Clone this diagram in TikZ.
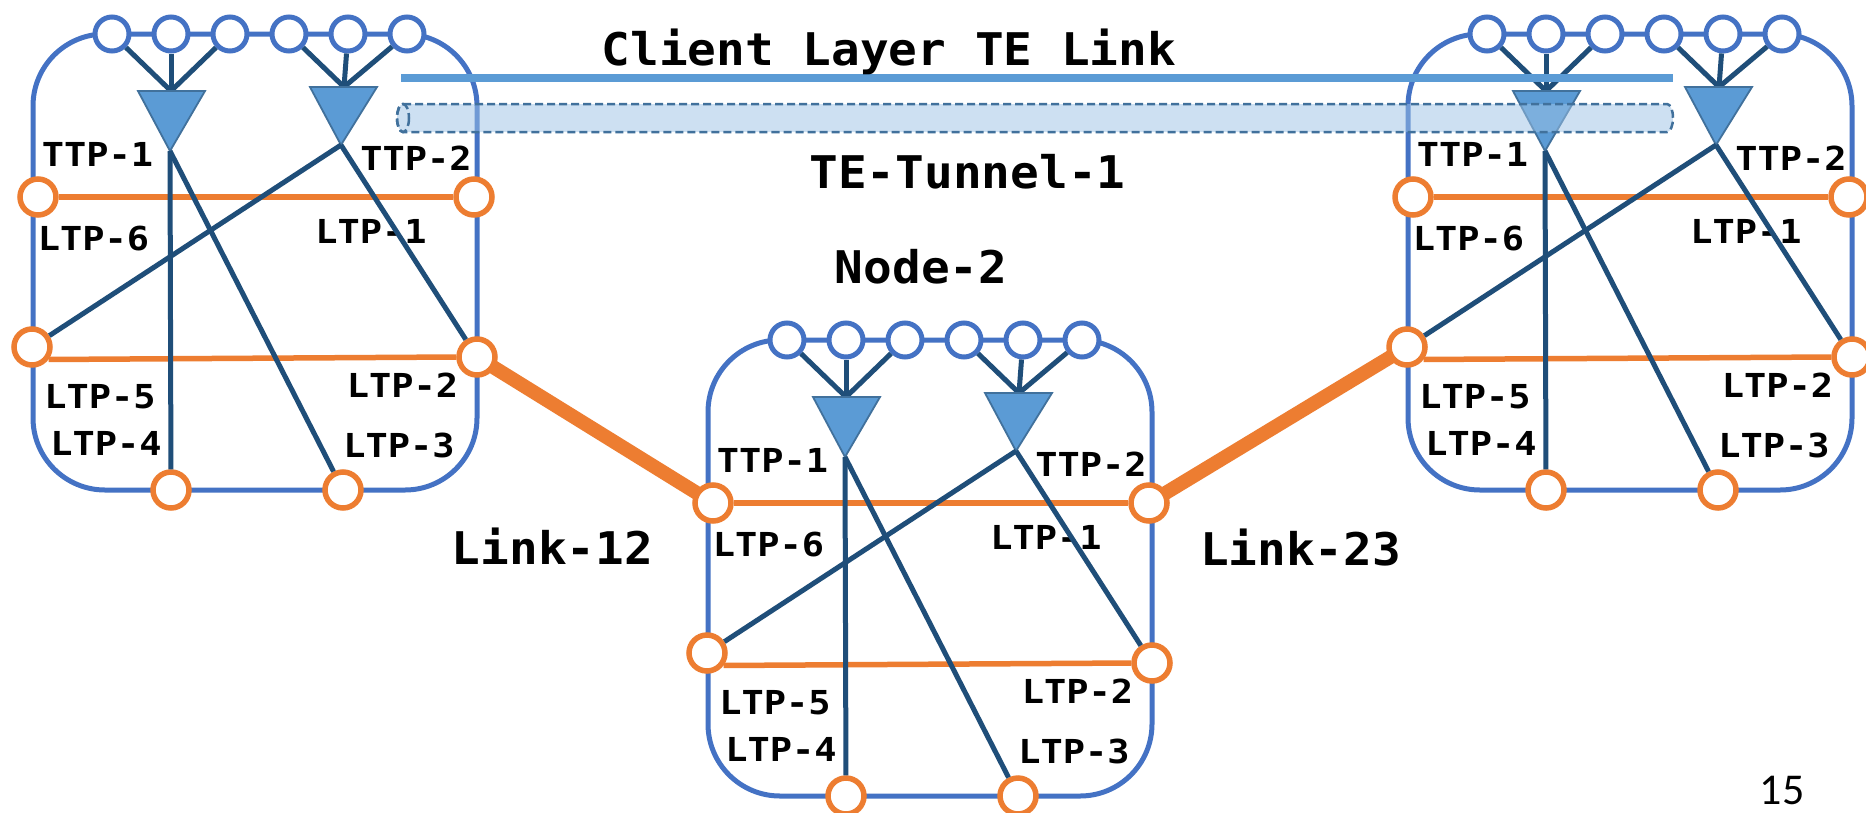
\documentclass[tikz,border=0pt]{standalone}
\usepackage{fontspec}
\newfontfamily\lblfont[FakeStretch=1.12]{DejaVu Sans Mono Bold}
\newfontfamily\bigfont[FakeStretch=1.06]{DejaVu Sans Mono Bold}
\newfontfamily\pagefont{Carlito}
\usetikzlibrary{calc}
\pgfdeclarelayer{background}
\pgfsetlayers{background,main}
\definecolor{rectblue}{HTML}{4472C4}
\definecolor{triblue}{HTML}{5B9BD5}
\definecolor{triedge}{HTML}{41719C}
\definecolor{darkln}{HTML}{1F4E79}
\definecolor{orng}{HTML}{ED7D31}
\definecolor{tunfill}{HTML}{9DC3E6}
\tikzset{
  nodebox/.style={draw=rectblue, line width=5pt, rounded corners=72pt, rectangle, inner sep=0pt, outer sep=0pt},
  clientport/.style={draw=rectblue, line width=5pt, fill=white, circle, minimum size=34pt, inner sep=0pt},
  ltpport/.style={draw=orng, line width=5.5pt, fill=white, circle, minimum size=36pt, inner sep=0pt},
  ttpshape/.style={draw=triedge, line width=1.8pt, fill=triblue, line join=miter},
  xconn/.style={draw=darkln, line width=5pt},
  olink/.style={draw=orng, line width=5.5pt},
  biglink/.style={draw=orng, line width=14pt},
  lbl/.style={font=\lblfont\fontsize{33}{36}\selectfont, anchor=base, inner sep=0pt},
  biglbl/.style={font=\bigfont\fontsize{45}{50}\selectfont, anchor=base, inner sep=0pt},
  tunnelshape/.style={draw=triedge, line width=2.5pt, dash pattern=on 8pt off 4pt, fill=tunfill, fill opacity=0.5},
}
\newcommand\tenode[3]{%
  \begin{scope}[shift={(#2,#3)}]
    \node[nodebox, minimum width=444pt, minimum height=456pt] (#1box) at (222,228) {};
    \foreach \i/\xx in {1/79,2/138,3/197,4/256,5/315,6/374}
      \node[clientport] (#1c\i) at (\xx,0) {};
    \coordinate (#1ta) at (137,117);
    \coordinate (#1tt) at (138,57);
    \coordinate (#1ua) at (308,111);
    \coordinate (#1ut) at (311,53);
    \draw[xconn] (#1c1) -- (#1tt);
    \draw[xconn] (#1c2) -- (#1tt);
    \draw[xconn] (#1c3) -- (#1tt);
    \draw[xconn] (#1c4) -- (#1ut);
    \draw[xconn] (#1c5) -- (#1ut);
    \draw[xconn] (#1c6) -- (#1ut);
    \draw[ttpshape] (105,57) -- (172,57) -- (#1ta) -- cycle;
    \draw[ttpshape] (277,53) -- (344,53) -- (#1ua) -- cycle;
    \node[ltpport] (#1l6) at (5,163) {};
    \node[ltpport] (#1l1) at (441,163) {};
    \node[ltpport] (#1l5) at (-1,313) {};
    \node[ltpport] (#1l2) at (444,323) {};
    \node[ltpport] (#1l4) at (138,456) {};
    \node[ltpport] (#1l3) at (310,456) {};
    \node[lbl] (#1ttpa) at (64.5,132) {TTP-1};
    \node[lbl] (#1ttpb) at (383,136) {TTP-2};
    \node[lbl] (#1ltpf) at (60.5,216) {LTP-6};
    \node[lbl] (#1ltpa) at (338,209) {LTP-1};
    \node[lbl] (#1ltpe) at (67,374) {LTP-5};
    \node[lbl] (#1ltpb) at (369.5,363) {LTP-2};
    \node[lbl] (#1ltpd) at (73,421) {LTP-4};
    \node[lbl] (#1ltpc) at (366,423) {LTP-3};
    \draw[olink] (#1l6) -- (#1l1);
    \draw[olink] (#1l5.-37) -- (#1l2.west);
    \draw[xconn] (#1ta) -- (#1l4);
    \draw[xconn] (#1ta) -- (#1l3);
    \draw[xconn] (#1ua) -- (#1l5);
    \draw[xconn] (#1ua) -- (#1l2);
  \end{scope}%
}
\begin{document}
\begin{tikzpicture}[x=1pt,y=-1pt]
  \useasboundingbox (0,0) rectangle (1866,812);
  \begin{pgfonlayer}{background}
    \fill[white] (0,0) rectangle (1866,812);
  \end{pgfonlayer}
  \tenode{n1}{33}{34}
  \tenode{n2}{708}{340}
  \tenode{n3}{1408}{34}
  \begin{pgfonlayer}{background}
    \draw[biglink] (n1l2.center) -- (n2l6.center);
    \draw[biglink] (n2l1.center) -- (n3l5.center);
  \end{pgfonlayer}
  % client layer TE link
  \coordinate (cla) at (401,78);
  \coordinate (clb) at (1673,78);
  \draw[triblue, line width=8.5pt] (cla) -- (clb);
  % TE tunnel
  \coordinate (tuna) at (403,118);
  \coordinate (tunb) at (1667,118);
  \draw[tunnelshape] (403,104) -- (1667,104)
     arc[start angle=-90, end angle=90, x radius=6, y radius=14]
     -- (403,132)
     arc[start angle=90, end angle=270, x radius=6, y radius=14] -- cycle;
  \draw[tunnelshape, fill=none] (tuna) ellipse [x radius=6, y radius=14];
  % texts
  \node[biglbl] (tclient) at (889,65) {Client Layer TE Link};
  \node[biglbl] (ttunnel) at (967.5,188) {TE-Tunnel-1};
  \node[biglbl] (tnode) at (921,283) {Node-2};
  \node[biglbl] (tlink12) at (552.5,564) {Link-12};
  \node[biglbl] (tlink23) at (1300.5,565) {Link-23};
  \node[font=\pagefont\fontsize{44}{50}\selectfont, anchor=base, inner sep=0pt] (pgnum) at (1782,804) {15};
\end{tikzpicture}
\end{document}
